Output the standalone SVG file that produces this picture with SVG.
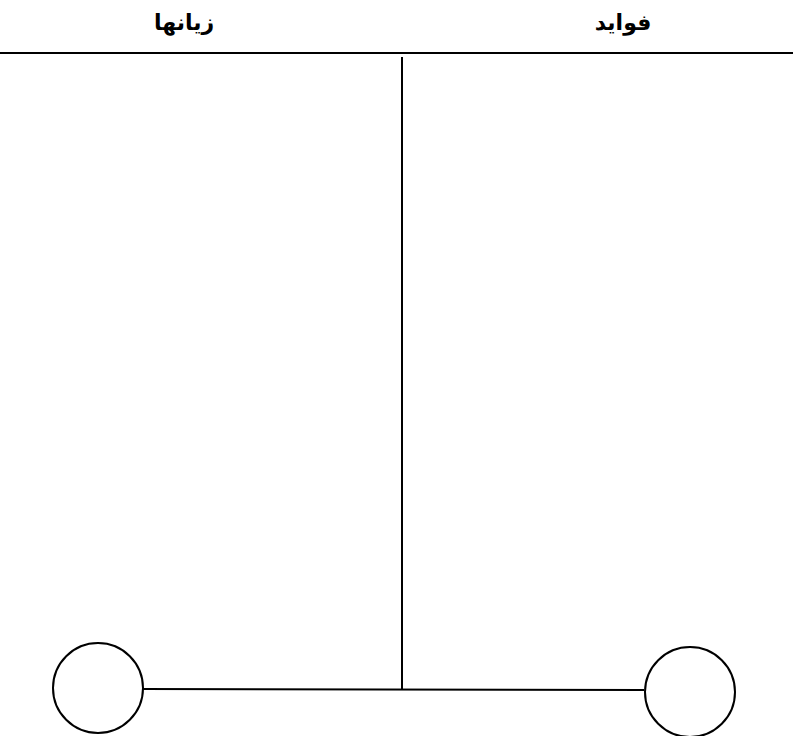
<svg xmlns="http://www.w3.org/2000/svg" width="793" height="736" viewBox="0 0 793 736">
<style>
.ln{stroke:#000;stroke-width:2;fill:none}
.nd{stroke:#000;stroke-width:2;fill:#fff}
.lb{font-family:"DejaVu Sans",sans-serif;font-weight:bold;font-size:22px;fill:#000;text-anchor:middle}
</style>
<rect width="793" height="736" fill="#fff"/>
<g id="labels">
<text class="lb" x="184" y="30" direction="rtl">زیانها</text>
<text class="lb" x="623" y="30" direction="rtl">فواید</text>
</g>
<g id="connectors">
<line class="ln" x1="0" y1="53" x2="793" y2="53"/>
<line class="ln" x1="402" y1="57" x2="402" y2="689"/>
<line class="ln" x1="143" y1="689" x2="644" y2="690"/>
</g>
<g id="node-left"><circle class="nd" cx="98" cy="688" r="45"/></g>
<g id="node-right"><circle class="nd" cx="690" cy="692" r="45"/></g>
</svg>
